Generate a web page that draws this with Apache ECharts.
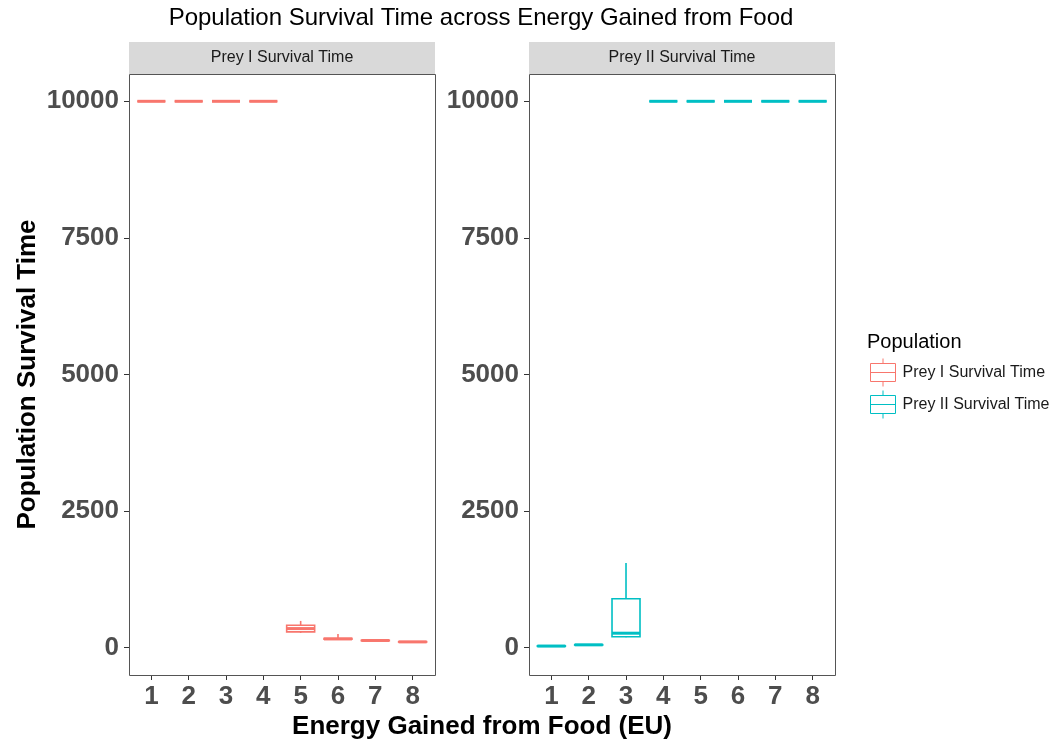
<!DOCTYPE html>
<html>
<head>
<meta charset="utf-8">
<title>Population Survival Time across Energy Gained from Food</title>
<script src="https://cdn.jsdelivr.net/npm/echarts@6/dist/echarts.min.js"></script>
<style>
  html, body { margin: 0; padding: 0; background: #fff; }
  #chart { width: 1054px; height: 742px; }
</style>
</head>
<body>
<div id="chart"></div>
<script>
// Energy levels (x categories)
const categories = ['1', '2', '3', '4', '5', '6', '7', '8'];

// Box statistics per energy level: [min, Q1, median, Q3, max]; null = no data
const preyIStats = [
  [10000, 10000, 10000, 10000, 10000],
  [10000, 10000, 10000, 10000, 10000],
  [10000, 10000, 10000, 10000, 10000],
  [10000, 10000, 10000, 10000, 10000],
  [270, 290, 350, 410, 490],
  [150, 155, 160, 170, 250],
  [125, 128, 132, 135, 140],
  [100, 103, 106, 110, 115]
];
const preyIIStats = [
  [20, 25, 30, 33, 38],
  [45, 48, 52, 55, 60],
  [190, 200, 265, 895, 1550],
  [10000, 10000, 10000, 10000, 10000],
  [10000, 10000, 10000, 10000, 10000],
  [10000, 10000, 10000, 10000, 10000],
  [10000, 10000, 10000, 10000, 10000],
  [10000, 10000, 10000, 10000, 10000]
];

const yTicks = [0, 2500, 5000, 7500, 10000];
const panelTitles = ['Prey I Survival Time', 'Prey II Survival Time'];
const seriesColors = ['#F8766D', '#00BFC4'];

const FONT = '"Liberation Sans", Arial, sans-serif';

function toRows(stats) {
  const rows = [];
  stats.forEach(function (s, i) {
    if (s) rows.push([i].concat(s));
  });
  return rows;
}

// boxplot glyph: box, median, whiskers without caps
function boxRenderer(color) {
  return function (params, api) {
    const x = api.value(0);
    const pMin = api.coord([x, api.value(1)]);
    const pQ1 = api.coord([x, api.value(2)]);
    const pMed = api.coord([x, api.value(3)]);
    const pQ3 = api.coord([x, api.value(4)]);
    const pMax = api.coord([x, api.value(5)]);
    const w = api.size([1, 0])[0] * 0.75;
    const cx = pMed[0];
    const L = cx - w / 2, R = cx + w / 2;
    const line = { stroke: color, lineWidth: 1.6, fill: null };
    return {
      type: 'group',
      children: [
        { type: 'line', shape: { x1: cx, y1: pMax[1], x2: cx, y2: pQ3[1] }, style: line },
        { type: 'line', shape: { x1: cx, y1: pQ1[1], x2: cx, y2: pMin[1] }, style: line },
        { type: 'rect', shape: { x: L, y: pQ3[1], width: w, height: pQ1[1] - pQ3[1] },
          style: { stroke: color, lineWidth: 1.6, fill: '#fff' } },
        { type: 'line', shape: { x1: L, y1: pMed[1], x2: R, y2: pMed[1] },
          style: { stroke: color, lineWidth: 3, fill: null } }
      ]
    };
  };
}

// panel geometry
const panels = [
  { left: 129, right: 435 },
  { left: 529, right: 835 }
];
const panelTop = 74, panelBottom = 675;
const bandPad = 3.7;

const grids = panels.map(function (p) {
  return {
    left: p.left + bandPad,
    width: (p.right - p.left) - 2 * bandPad,
    top: panelTop,
    height: panelBottom - panelTop
  };
});

const xAxes = panels.map(function (p, i) {
  return {
    type: 'category',
    gridIndex: i,
    data: categories,
    boundaryGap: true,
    axisLine: { show: false, onZero: false },
    axisTick: { show: true, alignWithLabel: true, length: 5, lineStyle: { color: '#333', width: 1 } },
    axisLabel: { margin: 9, fontFamily: FONT, fontSize: 26, fontWeight: 'bold', color: '#4d4d4d' },
    splitLine: { show: false }
  };
});

const yAxes = panels.map(function (p, i) {
  const ax = {
    type: 'value',
    gridIndex: i,
    min: -500,
    max: 10500,
    offset: bandPad,
    axisLine: { show: false, onZero: false },
    axisTick: { show: true, length: 5, customValues: yTicks, lineStyle: { color: '#333', width: 1 } },
    axisLabel: {
      margin: 10, fontFamily: FONT, fontSize: 26, fontWeight: 'bold', color: '#4d4d4d',
      customValues: yTicks,
      formatter: function (v) { return String(v); }
    },
    splitLine: { show: false }
  };
  if (i === 0) {
    ax.name = 'Population Survival Time';
    ax.nameLocation = 'middle';
    ax.nameGap = 88;
    ax.nameRotate = 90;
    ax.nameTextStyle = { fontFamily: FONT, fontSize: 26, fontWeight: 'bold', color: '#000' };
  }
  return ax;
});

const graphics = [];
panels.forEach(function (p, i) {
  // strip header
  graphics.push({
    type: 'rect', z: 5,
    shape: { x: p.left, y: 42, width: p.right - p.left, height: panelTop - 42 },
    style: { fill: '#d9d9d9', stroke: null }
  });
  graphics.push({
    type: 'text', z: 6,
    x: (p.left + p.right) / 2, y: (42 + panelTop) / 2,
    style: { text: panelTitles[i], fontFamily: FONT, fontSize: 16, fill: '#1a1a1a',
             align: 'center', verticalAlign: 'middle' }
  });
  // panel border
  graphics.push({
    type: 'rect', z: 20, silent: true,
    shape: { x: p.left + 0.5, y: panelTop + 0.5, width: p.right - p.left, height: panelBottom - panelTop },
    style: { fill: null, stroke: '#555', lineWidth: 1 }
  });
});
graphics.push({
  type: 'text', x: 481, y: 18,
  style: { text: 'Population Survival Time across Energy Gained from Food', fontFamily: FONT,
           fontSize: 24, fill: '#000', align: 'center', verticalAlign: 'middle' }
});
graphics.push({
  type: 'text', x: 482, y: 727,
  style: { text: 'Energy Gained from Food (EU)', fontFamily: FONT, fontSize: 26, fontWeight: 'bold',
           fill: '#000', align: 'center', verticalAlign: 'middle' }
});
graphics.push({
  type: 'text', x: 867, y: 342,
  style: { text: 'Population', fontFamily: FONT, fontSize: 20, fill: '#000',
           align: 'left', verticalAlign: 'middle' }
});

const boxIcon = 'path://M12.5,0V5M0,5H25V23H0ZM0,14H25M12.5,23V28';

const option = {
  backgroundColor: '#fff',
  animation: false,
  grid: grids,
  xAxis: xAxes,
  yAxis: yAxes,
  legend: {
    orient: 'vertical',
    left: 870,
    top: 358,
    padding: 0,
    itemWidth: 25,
    itemHeight: 28,
    itemGap: 3,
    textStyle: { fontFamily: FONT, fontSize: 16, color: '#1a1a1a', padding: [0, 0, 0, 2] },
    itemStyle: { color: '#fff', borderColor: 'inherit', borderWidth: 1 },
    data: [
      { name: 'Prey I Survival Time', icon: boxIcon },
      { name: 'Prey II Survival Time', icon: boxIcon }
    ]
  },
  graphic: graphics,
  series: [
    {
      name: 'Prey I Survival Time',
      type: 'custom',
      xAxisIndex: 0, yAxisIndex: 0,
      itemStyle: { color: seriesColors[0], borderColor: seriesColors[0] },
      encode: { x: 0, y: [1, 2, 3, 4, 5] },
      renderItem: boxRenderer(seriesColors[0]),
      data: toRows(preyIStats)
    },
    {
      name: 'Prey II Survival Time',
      type: 'custom',
      xAxisIndex: 1, yAxisIndex: 1,
      itemStyle: { color: seriesColors[1], borderColor: seriesColors[1] },
      encode: { x: 0, y: [1, 2, 3, 4, 5] },
      renderItem: boxRenderer(seriesColors[1]),
      data: toRows(preyIIStats)
    }
  ]
};

const chart = echarts.init(document.getElementById('chart'), null, { renderer: 'canvas' });
chart.setOption(option);
</script>
</body>
</html>
